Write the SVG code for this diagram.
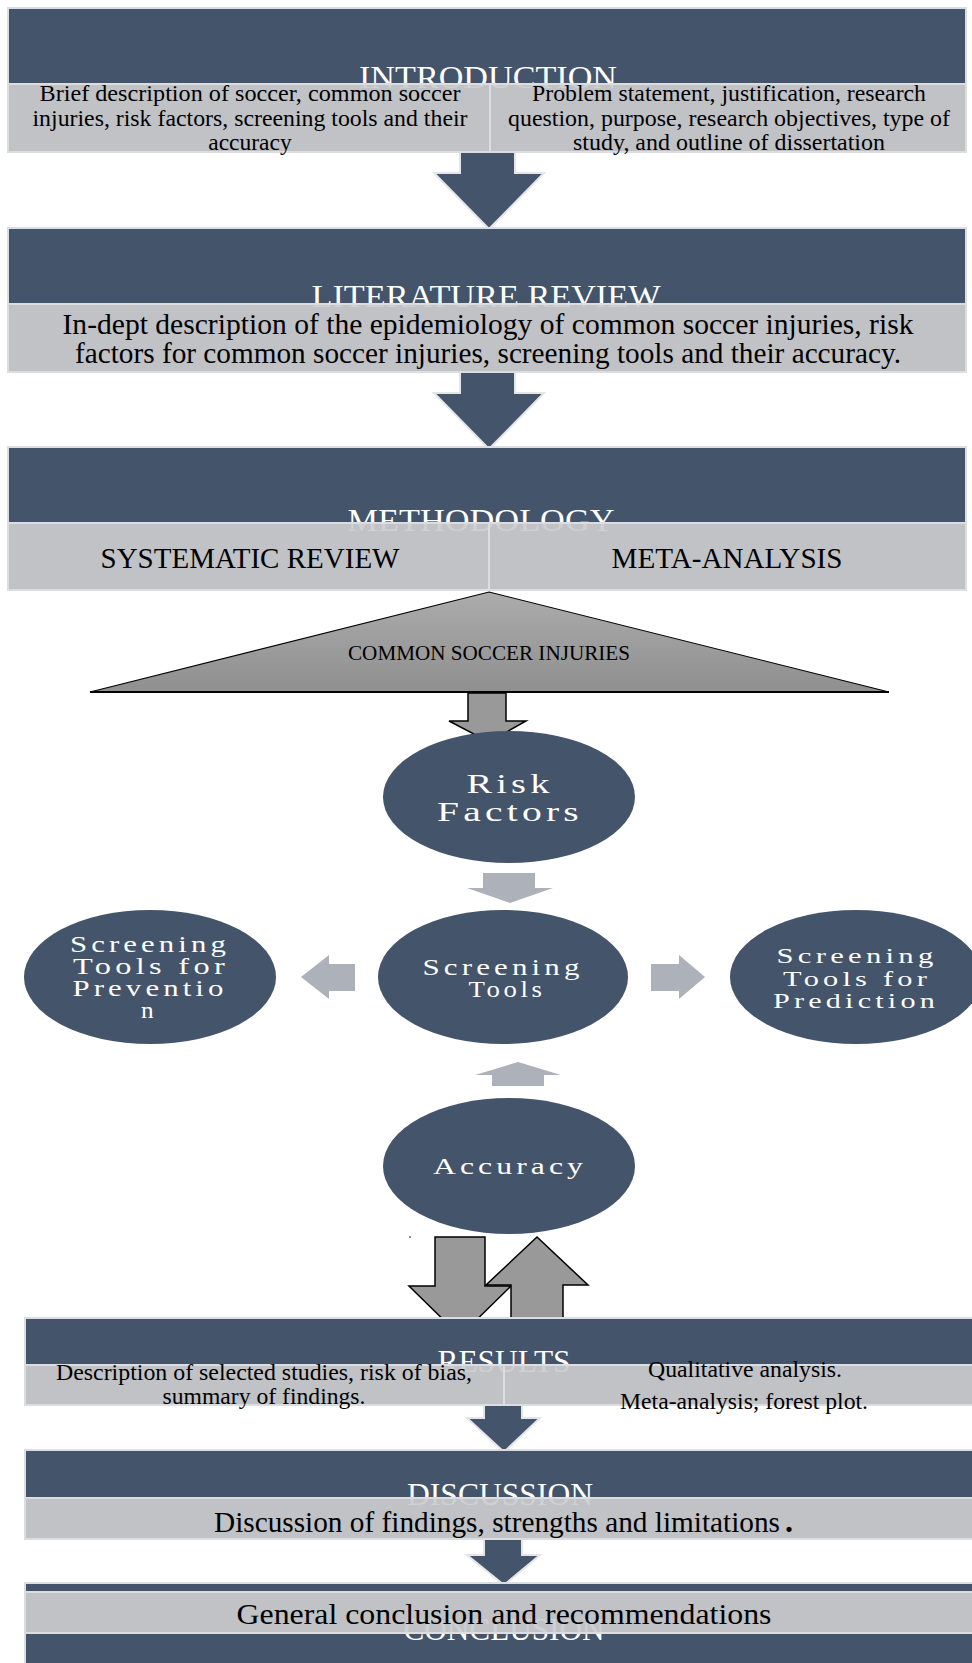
<svg xmlns="http://www.w3.org/2000/svg" width="972" height="1663" viewBox="0 0 972 1663">
  <defs>
    <linearGradient id="triFill" x1="0" y1="0" x2="0" y2="1">
      <stop offset="0" stop-color="#acacac"/>
      <stop offset="1" stop-color="#8f8f8f"/>
    </linearGradient>
    <style>
      .box{fill:#44546a;stroke:#dcdde0;stroke-width:2}
      .band{fill:#cbccce;fill-opacity:.92;stroke:#dcdde0;stroke-width:2}
      .divider{stroke:#dcdde0;stroke-width:2}
      .title{font-family:"Liberation Serif","Times New Roman",serif;font-size:31px;fill:#ffffff;text-anchor:middle}
      .body{font-family:"Liberation Serif","Times New Roman",serif;fill:#000000;text-anchor:middle}
      .oval{fill:#44546a}
      .ovalText{font-family:"Liberation Serif","Times New Roman",serif;fill:#ffffff;text-anchor:middle;letter-spacing:3px}
      .flow{fill:#44546a;stroke:#e4e5e8;stroke-width:2}
      .lite{fill:#adb1b9}
      .block{fill:#999999;stroke:#000000;stroke-width:1.5}
    </style>
  </defs>

  <rect width="972" height="1663" fill="#ffffff"/>

  <!-- connectors -->
  <g id="connectors">
    <path class="flow" d="M460,150 H515 V173 H544 L489,229 L434,173 H460 Z"/>
    <path class="flow" d="M460,370 H515 V393 H544 L489,449 L434,393 H460 Z"/>
    <path class="block" d="M468,693 H506 V721 H526 L489,742 L449,721 H468 Z"/>
    <path class="lite" d="M483,873 H535 V888 H553 L510,903 L467,888 H483 Z"/>
    <path class="lite" d="M355,964 V991 H329 V999 L301,977 L329,955 V964 Z"/>
    <path class="lite" d="M651,964 V991 H679 V999 L705,977 L679,955 V964 Z"/>
    <path class="lite" d="M492,1086 V1075 H475 L518,1062 L561,1075 H544 V1086 Z"/>
    <path class="block" d="M435,1237 H485 V1286 H511 L460,1336 L409,1286 H435 Z"/>
    <path class="block" d="M511,1330 V1285 H486 L537,1237 L588,1285 H563 V1330 Z"/>
    <path class="flow" d="M484,1404 H522 V1418 H540 L504,1452 L467,1418 H484 Z"/>
    <path class="flow" d="M484,1538 H522 V1555 H540 L504,1585 L467,1555 H484 Z"/>
    <circle cx="410" cy="1237" r="0.9" fill="#555555"/>
  </g>

  <!-- introduction -->
  <g id="introduction">
    <rect class="box" x="8" y="8" width="958" height="144"/>
    <text class="title" x="488" y="88" textLength="258" lengthAdjust="spacingAndGlyphs">INTRODUCTION</text>
    <rect class="band" x="8" y="84" width="958" height="68"/>
    <line class="divider" x1="490" y1="84" x2="490" y2="152"/>
    <g class="body" font-size="23.5">
      <text x="250" y="101" textLength="421" lengthAdjust="spacingAndGlyphs">Brief description of soccer, common soccer</text>
      <text x="250" y="126" textLength="435" lengthAdjust="spacingAndGlyphs">injuries, risk factors, screening tools and their</text>
      <text x="250" y="150">accuracy</text>
      <text x="729" y="101" textLength="394" lengthAdjust="spacingAndGlyphs">Problem statement, justification, research</text>
      <text x="729" y="126" textLength="442" lengthAdjust="spacingAndGlyphs">question, purpose, research objectives, type of</text>
      <text x="729" y="150" textLength="312" lengthAdjust="spacingAndGlyphs">study, and outline of dissertation</text>
    </g>
  </g>

  <!-- literature review -->
  <g id="literature-review">
    <rect class="box" x="8" y="228" width="958" height="144"/>
    <text class="title" x="486" y="307" textLength="349" lengthAdjust="spacingAndGlyphs">LITERATURE REVIEW</text>
    <rect class="band" x="8" y="304" width="958" height="68"/>
    <g class="body" font-size="29">
      <text x="488" y="334" textLength="851" lengthAdjust="spacingAndGlyphs">In-dept description of  the epidemiology of common soccer injuries, risk</text>
      <text x="488" y="363" textLength="826" lengthAdjust="spacingAndGlyphs">factors for common soccer injuries, screening tools and their accuracy.</text>
    </g>
  </g>

  <!-- methodology -->
  <g id="methodology">
    <rect class="box" x="8" y="447" width="958" height="143"/>
    <text class="title" x="481" y="531" textLength="267" lengthAdjust="spacingAndGlyphs">METHODOLOGY</text>
    <rect class="band" x="8" y="523" width="958" height="67"/>
    <line class="divider" x1="489" y1="523" x2="489" y2="590"/>
    <g class="body" font-size="28.5">
      <text x="250" y="568" textLength="299" lengthAdjust="spacingAndGlyphs">SYSTEMATIC REVIEW</text>
      <text x="727" y="568" textLength="231" lengthAdjust="spacingAndGlyphs">META-ANALYSIS</text>
    </g>
  </g>

  <!-- common soccer injuries -->
  <g id="common-soccer-injuries">
    <polygon points="489,592 889,692 90,692" fill="url(#triFill)" stroke="#000000" stroke-width="1.2"/>
    <line x1="90" y1="692" x2="889" y2="692" stroke="#000000" stroke-width="2"/>
    <text class="body" x="489" y="660" font-size="21" textLength="282" lengthAdjust="spacingAndGlyphs">COMMON SOCCER INJURIES</text>
  </g>

  <!-- risk factors -->
  <g id="risk-factors">
    <ellipse class="oval" cx="509" cy="797" rx="126" ry="66"/>
    <g class="ovalText" font-size="28">
      <text x="510" y="793" textLength="87" lengthAdjust="spacingAndGlyphs">Risk</text>
      <text x="510" y="821" textLength="146" lengthAdjust="spacingAndGlyphs">Factors</text>
    </g>
  </g>

  <!-- screening tools -->
  <g id="screening-tools">
    <ellipse class="oval" cx="503" cy="977" rx="125" ry="67"/>
    <g class="ovalText" font-size="22.5">
      <text x="503" y="975" textLength="161" lengthAdjust="spacingAndGlyphs">Screening</text>
      <text x="507" y="997" textLength="77" lengthAdjust="spacingAndGlyphs">Tools</text>
    </g>
  </g>

  <!-- screening tools for prevention -->
  <g id="screening-prevention">
    <ellipse class="oval" cx="150" cy="977" rx="126" ry="67"/>
    <g class="ovalText" font-size="22.5">
      <text x="150" y="952" textLength="160" lengthAdjust="spacingAndGlyphs">Screening</text>
      <text x="151" y="974" textLength="156" lengthAdjust="spacingAndGlyphs">Tools for</text>
      <text x="150" y="996" textLength="155" lengthAdjust="spacingAndGlyphs">Preventio</text>
      <text x="149" y="1018" textLength="16" lengthAdjust="spacingAndGlyphs">n</text>
    </g>
  </g>

  <!-- screening tools for prediction -->
  <g id="screening-prediction">
    <ellipse class="oval" cx="856" cy="977" rx="126" ry="67"/>
    <g class="ovalText" font-size="21.5">
      <text x="857" y="963" textLength="161" lengthAdjust="spacingAndGlyphs">Screening</text>
      <text x="857" y="986" textLength="148" lengthAdjust="spacingAndGlyphs">Tools for</text>
      <text x="856" y="1008" textLength="166" lengthAdjust="spacingAndGlyphs">Prediction</text>
    </g>
  </g>

  <!-- accuracy -->
  <g id="accuracy">
    <ellipse class="oval" cx="509" cy="1166" rx="126" ry="68"/>
    <text class="ovalText" x="510" y="1174" font-size="23.5" textLength="154" lengthAdjust="spacingAndGlyphs">Accuracy</text>
  </g>

  <!-- results -->
  <g id="results">
    <rect class="box" x="25" y="1318" width="960" height="87"/>
    <text class="title" x="504" y="1372" textLength="133" lengthAdjust="spacingAndGlyphs">RESULTS</text>
    <rect class="band" x="25" y="1365" width="960" height="40"/>
    <line class="divider" x1="504" y1="1365" x2="504" y2="1405"/>
    <g class="body" font-size="23">
      <text x="264" y="1380" textLength="416" lengthAdjust="spacingAndGlyphs">Description of selected studies, risk of bias,</text>
      <text x="264" y="1404" textLength="203" lengthAdjust="spacingAndGlyphs">summary of findings.</text>
      <text x="745" y="1377" textLength="194" lengthAdjust="spacingAndGlyphs">Qualitative analysis.</text>
      <text x="744" y="1409" textLength="248" lengthAdjust="spacingAndGlyphs">Meta-analysis; forest plot.</text>
    </g>
  </g>

  <!-- discussion -->
  <g id="discussion">
    <rect class="box" x="25" y="1450" width="960" height="89"/>
    <text class="title" x="500" y="1505" textLength="186" lengthAdjust="spacingAndGlyphs">DISCUSSION</text>
    <rect class="band" x="25" y="1498" width="960" height="41"/>
    <text class="body" x="214" y="1532" font-size="29" style="text-anchor:start" textLength="566" lengthAdjust="spacingAndGlyphs">Discussion of findings, strengths and limitations</text>
    <text class="body" x="789" y="1532" font-size="32" font-weight="bold">.</text>
  </g>

  <!-- conclusion -->
  <g id="conclusion">
    <rect class="box" x="25" y="1583" width="960" height="90"/>
    <text class="title" x="504" y="1640" textLength="201" lengthAdjust="spacingAndGlyphs">CONCLUSION</text>
    <rect class="band" x="25" y="1592" width="960" height="41"/>
    <text class="body" x="504" y="1624" font-size="30" textLength="535" lengthAdjust="spacingAndGlyphs">General conclusion and recommendations</text>
  </g>
</svg>
